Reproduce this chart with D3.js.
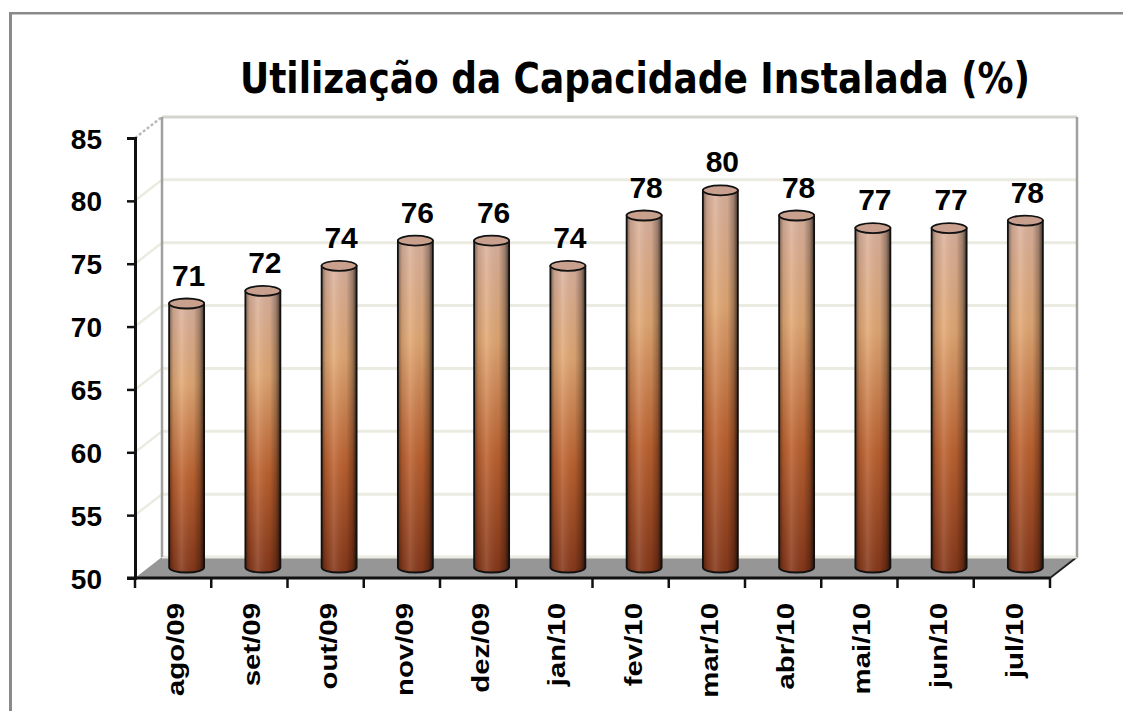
<!DOCTYPE html>
<html>
<head>
<meta charset="utf-8">
<script src="https://cdn.jsdelivr.net/npm/d3@7"></script>
<style>
  body { margin: 0; background: #fff; }
  svg { display: block; }
</style>
</head>
<body>
<div></div>
<script>
const categories = ["ago/09", "set/09", "out/09", "nov/09", "dez/09", "jan/10",
                    "fev/10", "mar/10", "abr/10", "mai/10", "jun/10", "jul/10"];
const values = [71, 72, 74, 76, 76, 74, 78, 80, 78, 77, 77, 77.6];
const yTicks = [50, 55, 60, 65, 70, 75, 80, 85];
const title = "Utilização da Capacidade Instalada (%)";

const W = 1123, H = 711;
const svg = d3.select("div").append("svg").attr("width", W).attr("height", H);

// page frame (left and top only)
svg.append("rect").attr("x", 9).attr("y", 12).attr("width", 3).attr("height", H - 12).attr("fill", "#8a8a8a");
svg.append("rect").attr("x", 9).attr("y", 12).attr("width", W - 9).attr("height", 2.5).attr("fill", "#8a8a8a");

const x = d3.scaleBand().domain(categories).range([135, 1050]);
const y = d3.scaleLinear().domain([50, 85]).range([578, 138]);
const dx = 27, dy = -21;

const defs = svg.append("defs");
const gv = defs.append("linearGradient").attr("id", "cylV").attr("x1", 0).attr("y1", 0).attr("x2", 0).attr("y2", 1);
[["0%", "#dbb29e"], ["30%", "#e2a874"], ["65%", "#bd6230"], ["100%", "#86381a"]]
  .forEach(s => gv.append("stop").attr("offset", s[0]).attr("stop-color", s[1]));
const gh = defs.append("linearGradient").attr("id", "cylH").attr("x1", 0).attr("y1", 0).attr("x2", 1).attr("y2", 0);
[["0%", "#000", 0.45], ["12%", "#000", 0.1], ["35%", "#fff", 0.12], ["70%", "#000", 0.05], ["88%", "#000", 0.3], ["100%", "#000", 0.7]]
  .forEach(s => gh.append("stop").attr("offset", s[0]).attr("stop-color", s[1]).attr("stop-opacity", s[2]));

// floor
const x0 = x.range()[0], x1 = x.range()[1];
svg.append("polygon")
  .attr("points", [[x0, y(50)], [x1, y(50)], [x1 + dx, y(50) + dy], [x0 + dx, y(50) + dy]].join(" "))
  .attr("fill", "#969696");
svg.append("line").attr("x1", x1).attr("y1", y(50)).attr("x2", x1 + dx).attr("y2", y(50) + dy)
  .attr("stroke", "#222").attr("stroke-width", 2);

// back wall gridlines and side wall lines
const grid = svg.append("g");
yTicks.forEach(t => {
  const top = t === 85;
  grid.append("line")
    .attr("x1", x0 + dx).attr("x2", x1 + dx)
    .attr("y1", y(t) + dy).attr("y2", y(t) + dy)
    .attr("stroke", top ? "#d4d4ce" : "#ecebe1").attr("stroke-width", 3);
  if (t > 50) {
    grid.append("line")
      .attr("x1", x0).attr("y1", y(t)).attr("x2", x0 + dx).attr("y2", y(t) + dy)
      .attr("stroke", top ? "#bbbbbb" : "#ecebe1").attr("stroke-width", 2.5)
      .attr("stroke-dasharray", top ? "3,2" : null);
  }
});
svg.append("line").attr("x1", x0 + dx).attr("x2", x0 + dx).attr("y1", y(85) + dy).attr("y2", y(50) + dy)
  .attr("stroke", "#a0a0a0").attr("stroke-width", 2.5);
svg.append("line").attr("x1", x1 + dx).attr("x2", x1 + dx).attr("y1", y(85) + dy).attr("y2", y(50) + dy)
  .attr("stroke", "#a0a0a0").attr("stroke-width", 2.5);

// cylinders
const rx = 17.5, ry = 5;
const bars = svg.append("g").selectAll("g").data(values).join("g")
  .attr("transform", (d, i) => `translate(${x(categories[i]) + x.bandwidth() / 2 + dx / 2},0)`);
const yBase = y(50) + dy / 2;
const bodyPath = d => {
  const yt = y(d) + dy / 2;
  return `M${-rx},${yt} L${-rx},${yBase} A${rx},${ry} 0 0 0 ${rx},${yBase} L${rx},${yt} Z`;
};
bars.append("path").attr("d", bodyPath).attr("fill", "url(#cylV)");
bars.append("path").attr("d", bodyPath).attr("fill", "url(#cylH)")
  .attr("stroke", "#111").attr("stroke-width", 1.8);
bars.append("ellipse").attr("cx", 0).attr("cy", d => y(d) + dy / 2)
  .attr("rx", rx).attr("ry", ry)
  .attr("fill", "#c9a08e").attr("stroke", "#111").attr("stroke-width", 1.8);
bars.append("text")
  .attr("x", 2).attr("y", d => y(d) + dy / 2 - 18)
  .attr("text-anchor", "middle")
  .attr("font-family", "Liberation Sans, Arial, sans-serif")
  .attr("font-weight", "bold").attr("font-size", 30)
  .text(d => d3.format(".0f")(d));

// front axes
const yAxis = svg.append("g").attr("transform", `translate(${x0},0)`)
  .call(d3.axisLeft(y).tickValues(yTicks).tickSize(8).tickPadding(25));
yAxis.select(".domain").attr("stroke", "#111").attr("stroke-width", 3);
yAxis.selectAll(".tick line").attr("stroke", "#111").attr("stroke-width", 2.5);
yAxis.selectAll("text")
  .attr("font-family", "Liberation Sans, Arial, sans-serif")
  .attr("font-weight", "bold").attr("font-size", 28).attr("fill", "#000").attr("dy", "0.36em");

const xAxis = svg.append("g").attr("transform", `translate(0,${y(50)})`);
xAxis.append("line").attr("x1", x0 - 8).attr("x2", x1).attr("stroke", "#111").attr("stroke-width", 3);
xAxis.selectAll("line.tk").data(d3.range(categories.length + 1)).join("line").attr("class", "tk")
  .attr("x1", i => x0 + i * x.step()).attr("x2", i => x0 + i * x.step())
  .attr("y1", 0).attr("y2", 10).attr("stroke", "#111").attr("stroke-width", 2.5);
xAxis.selectAll("text").data(categories).join("text")
  .attr("transform", d => `translate(${x(d) + x.bandwidth() / 2 + 11},25) rotate(-90) scale(1.25,1)`)
  .attr("text-anchor", "end")
  .attr("font-family", "Liberation Sans, Arial, sans-serif")
  .attr("font-weight", "bold").attr("font-size", 23.5)
  .text(d => d);

// title
svg.append("text")
  .attr("x", 240).attr("y", 93)
  .attr("textLength", 790).attr("lengthAdjust", "spacingAndGlyphs")
  .attr("font-family", "DejaVu Sans Condensed, DejaVu Sans, sans-serif")
  .style("font-stretch", "condensed")
  .attr("font-weight", "bold")
  .attr("font-size", 42)
  .text(title);
</script>
</body>
</html>
